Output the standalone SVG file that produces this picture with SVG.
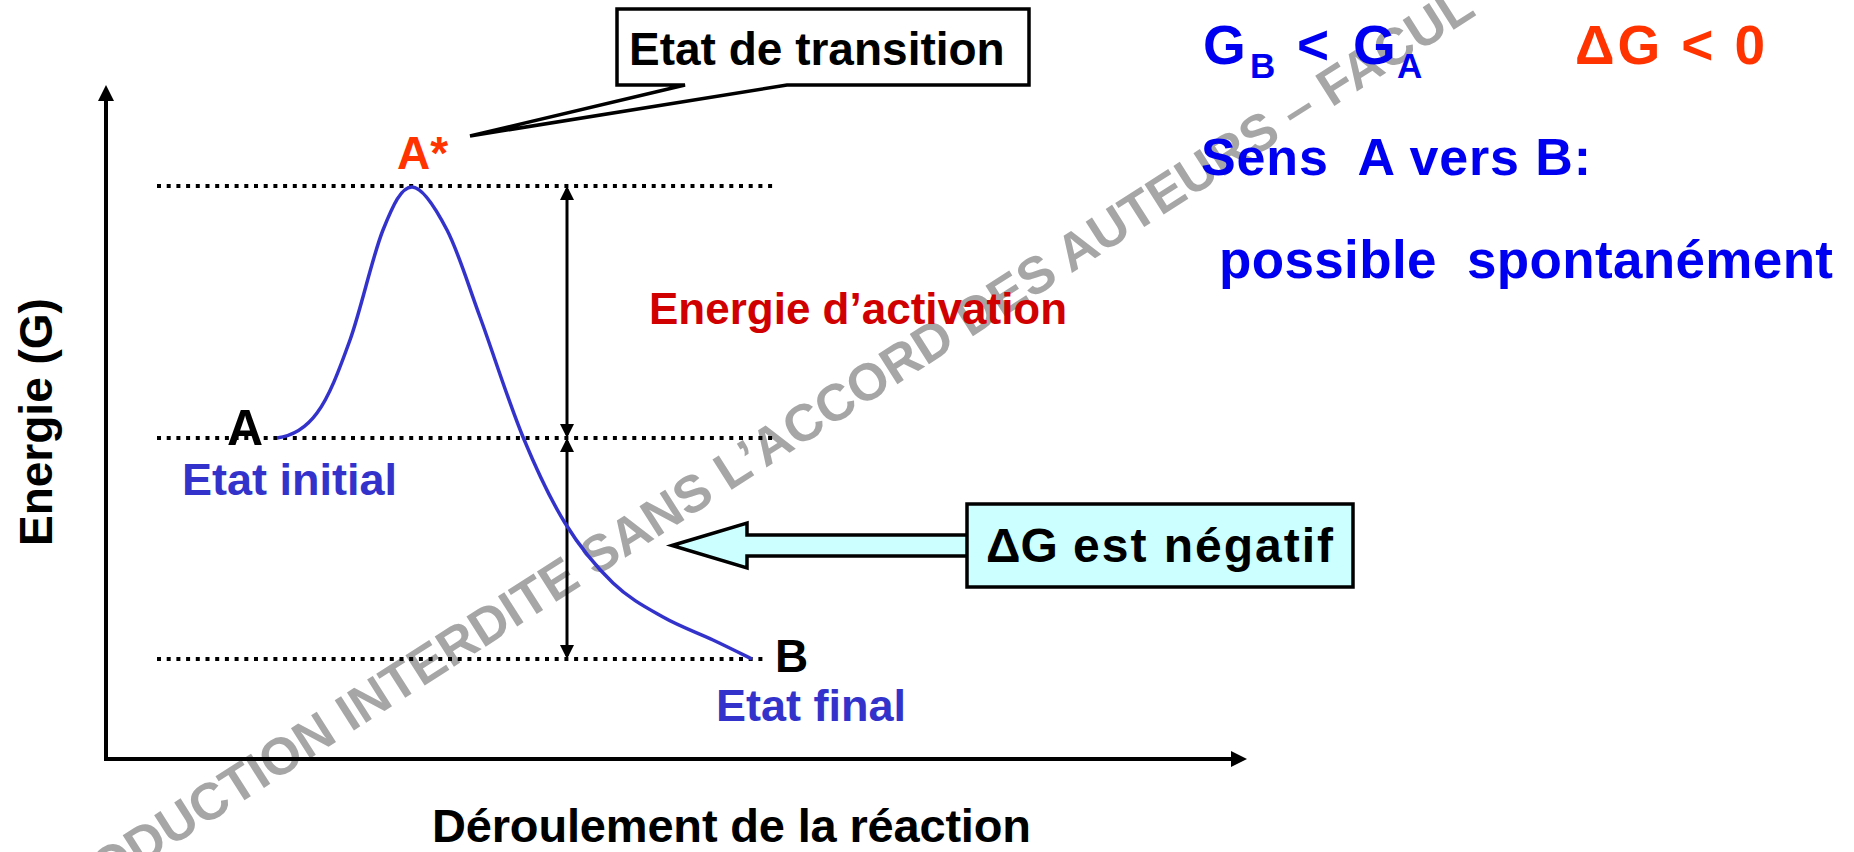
<svg xmlns="http://www.w3.org/2000/svg" width="1854" height="852" viewBox="0 0 1854 852">
<defs>
<style>
text{font-family:"Liberation Sans",Arial,sans-serif;font-weight:bold}
.dot{stroke:#000;stroke-width:4;stroke-dasharray:4 5.7;fill:none}
.axis{stroke:#000;stroke-width:4;fill:none}
.dbl{stroke:#000;stroke-width:3;fill:none;marker-start:url(#ah);marker-end:url(#ah)}
.box{stroke:#000;stroke-width:3.5}
.k{fill:#000}
.blue{fill:#0000F0}
.pb{fill:#3333CC}
.or{fill:#FF3300}
.dr{fill:#D00000}
.wm{fill:#A6A6A6;font-size:52px}
</style>
<marker id="ah" markerUnits="userSpaceOnUse" viewBox="0 0 14 14" refX="11" refY="7" markerWidth="14" markerHeight="14" orient="auto-start-reverse"><path d="M0,0 L14,7 L0,14 z" fill="#000"/></marker>
<marker id="axh" markerUnits="userSpaceOnUse" viewBox="0 0 16 16" refX="4" refY="8" markerWidth="16" markerHeight="16" orient="auto"><path d="M0,0 L16,8 L0,16 z" fill="#000"/></marker>
</defs>
<rect width="1854" height="852" fill="#fff"/>

<g id="watermark">
<text class="wm" x="105" y="889" transform="rotate(-32.5 105 889)">ODUCTION INTERDITE SANS L’ACCORD DES AUTEURS – FACUL</text>
</g>

<g id="axes">
<line class="axis" x1="106" y1="761" x2="106" y2="97" marker-end="url(#axh)"/>
<line class="axis" x1="104" y1="759" x2="1235" y2="759" marker-end="url(#axh)"/>
<text class="k" font-size="46" transform="translate(52,546) rotate(-90)">Energie (G)</text>
<text class="k" font-size="47" x="432" y="842" textLength="599">Déroulement de la réaction</text>
</g>

<g id="levels">
<line class="dot" x1="157" y1="186" x2="776" y2="186"/>
<line class="dot" x1="157" y1="438" x2="776" y2="438"/>
<line class="dot" x1="157" y1="659" x2="768" y2="659"/>
</g>

<g id="connectors">
<line class="dbl" x1="567" y1="189" x2="567" y2="435"/>
<line class="dbl" x1="567" y1="441" x2="567" y2="656"/>
<path d="M672,545.5 L747,523 L747,535 L969,535 L969,556 L747,556 L747,568 Z" fill="#CCFFFF" class="box"/>
</g>

<g id="curve">
<path d="M277,438 C292,436 306,428 317,413 C329.2,396.7 339,370.5 350,340 C361,309.5 372.7,255.5 383,230 C393.3,204.5 401.3,187 412,187 C422.7,187 435.7,208.3 447,230 C458.3,251.7 467.3,282.5 480,317 C492.7,351.5 508.8,402.7 523,437 C537.2,471.3 550,498.7 565,523 C580,547.3 596.7,567.3 613,583 C629.3,598.7 646.3,607.5 663,617 C679.7,626.5 698.2,633 713,640 C727.8,647 745.5,655.8 752,659" fill="none" stroke="#3333CC" stroke-width="3.5"/>
</g>

<g id="node-A">
<text class="k" font-size="50" x="227" y="445">A</text>
<text class="pb" font-size="45" x="182" y="495">Etat initial</text>
</g>

<g id="node-Astar">
<text class="or" font-size="46" x="397" y="169">A*</text>
</g>

<g id="node-B">
<text class="k" font-size="46" x="775" y="672">B</text>
<text class="pb" font-size="45" x="716" y="721">Etat final</text>
</g>

<g id="label-activation">
<text class="dr" font-size="44" x="649" y="324">Energie d’activation</text>
</g>

<g id="callout-transition">
<path d="M617,9 H1029 V85 H787 L470,136 L685,85 H617 Z" fill="#fff" class="box" stroke-linejoin="miter" stroke-miterlimit="4"/>
<text class="k" font-size="46" x="629" y="65">Etat de transition</text>
</g>

<g id="box-deltaG">
<rect x="967" y="504" width="386" height="83" fill="#CCFFFF" class="box"/>
<text class="k" font-size="48" y="562"><tspan x="986">ΔG</tspan><tspan x="1073" textLength="260">est négatif</tspan></text>
</g>

<g id="notes">
<text class="blue" font-size="55"><tspan x="1203" y="64">G</tspan><tspan x="1250" y="78" font-size="35">B</tspan><tspan x="1297" y="64">&lt;</tspan><tspan x="1353" y="64">G</tspan><tspan x="1397" y="78" font-size="35">A</tspan></text>
<text class="or" font-size="55" x="1575" y="64" textLength="190" xml:space="preserve">ΔG &lt; 0</text>
<text class="blue" font-size="52" x="1201" y="175" textLength="390" xml:space="preserve">Sens  A vers B:</text>
<text class="blue" font-size="53" x="1219" y="278" textLength="614" xml:space="preserve">possible  spontanément</text>
</g>
</svg>
